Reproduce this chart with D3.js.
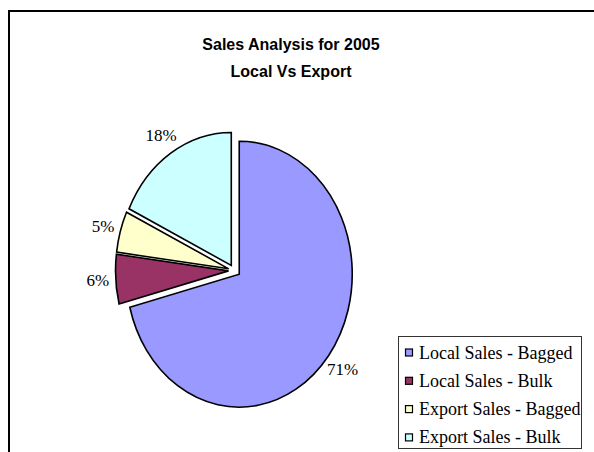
<!DOCTYPE html>
<html>
<head>
<meta charset="utf-8">
<script src="https://cdn.jsdelivr.net/npm/d3@7"></script>
<style>
  html, body { margin: 0; padding: 0; background: #fff; }
  svg { display: block; }
</style>
</head>
<body>
<svg width="594" height="452"></svg>
<script>
const categories = ["Local Sales - Bagged", "Local Sales - Bulk", "Export Sales - Bagged", "Export Sales - Bulk"];
const shares = [71, 6, 5, 18];
const colors = ["#9999FF", "#993366", "#FFFFCC", "#CCFFFF"];
const titleLines = ["Sales Analysis for 2005", "Local Vs Export"];

function drawChart() {
  const svg = d3.select("svg");

  // chart area border (cut off on the right and bottom)
  svg.append("path")
    .attr("d", "M9,452V11H594")
    .attr("fill", "none")
    .attr("stroke", "#000")
    .attr("stroke-width", 2);

  // title
  svg.selectAll("text.title")
    .data(titleLines)
    .join("text")
    .attr("class", "title")
    .attr("x", 291)
    .attr("y", (d, i) => 50 + i * 26.5)
    .attr("text-anchor", "middle")
    .attr("font-family", "Liberation Sans, Arial, sans-serif")
    .attr("font-weight", "bold")
    .attr("font-size", 16)
    .text(d => d);

  // pie (elliptical, all slices slightly exploded)
  const cx = 234.5, cy = 270.5;
  const ry = 133, rx = 113;
  const sx = rx / ry;
  const explode = 6;
  const labelR = 154;

  const pie = d3.pie().sort(null).value(d => d);
  const arcs = pie(shares);
  const arc = d3.arc().innerRadius(0).outerRadius(ry);

  const g = svg.append("g");

  const slice = g.selectAll("g.slice")
    .data(arcs)
    .join("g")
    .attr("class", "slice")
    .attr("transform", d => {
      const m = (d.startAngle + d.endAngle) / 2;
      const ox = cx + explode * Math.sin(m);
      const oy = cy - explode * Math.cos(m);
      return `translate(${ox},${oy}) scale(${sx},1)`;
    });

  slice.append("path")
    .attr("d", arc)
    .attr("fill", (d, i) => colors[i])
    .attr("stroke", "#000")
    .attr("stroke-width", 1.6)
    .attr("stroke-linejoin", "miter")
    .attr("vector-effect", "non-scaling-stroke");

  // percentage labels
  g.selectAll("text.lbl")
    .data(arcs)
    .join("text")
    .attr("class", "lbl")
    .attr("x", d => {
      const m = (d.startAngle + d.endAngle) / 2;
      return cx + explode * Math.sin(m) + labelR * sx * Math.sin(m);
    })
    .attr("y", d => {
      const m = (d.startAngle + d.endAngle) / 2;
      return cy - explode * Math.cos(m) - labelR * Math.cos(m);
    })
    .attr("dy", "0.35em")
    .attr("text-anchor", "middle")
    .attr("font-family", "Liberation Serif, Times New Roman, serif")
    .attr("font-size", 17)
    .text(d => d.data + "%");

  // legend
  const legend = svg.append("g").attr("transform", "translate(398.5,336.5)");
  legend.append("rect")
    .attr("width", 183)
    .attr("height", 112)
    .attr("fill", "#fff")
    .attr("stroke", "#333")
    .attr("stroke-width", 1);

  const item = legend.selectAll("g.item")
    .data(categories)
    .join("g")
    .attr("class", "item")
    .attr("transform", (d, i) => `translate(0,${16 + i * 28.3})`);

  item.append("rect")
    .attr("x", 7)
    .attr("y", -3.5)
    .attr("width", 7)
    .attr("height", 7)
    .attr("fill", (d, i) => colors[i])
    .attr("stroke", "#000")
    .attr("stroke-width", 1.2);

  item.append("text")
    .attr("x", 20.5)
    .attr("y", 6)
    .attr("font-family", "Liberation Serif, Times New Roman, serif")
    .attr("font-size", 18)
    .text(d => d);
}

drawChart();
</script>
</body>
</html>
